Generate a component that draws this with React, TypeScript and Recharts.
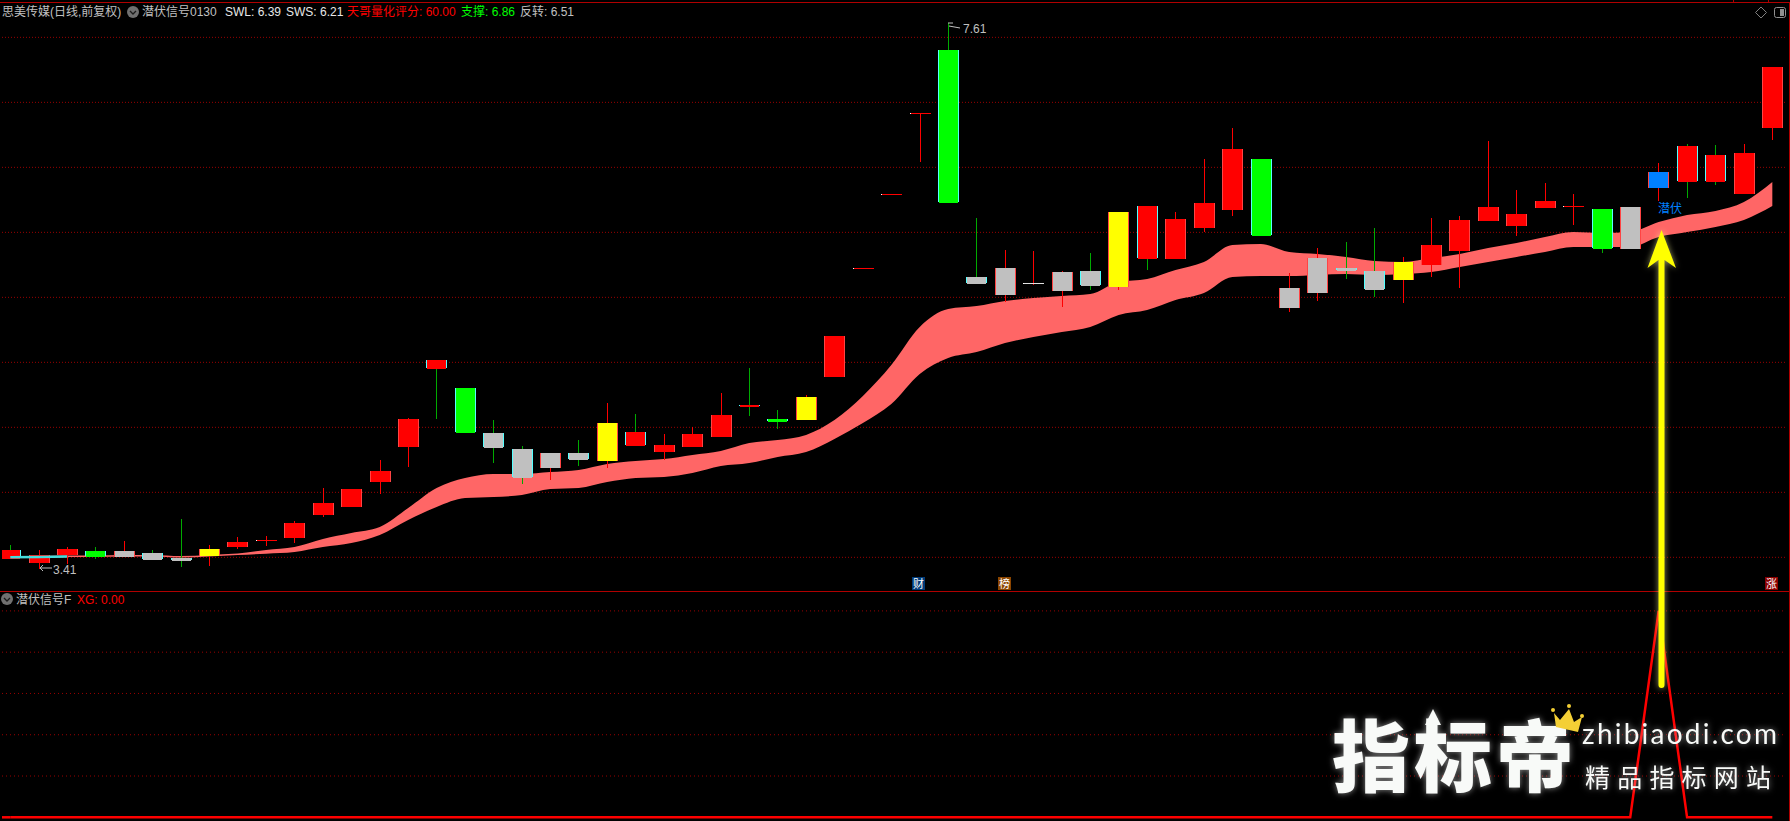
import { Area, Bar, CartesianGrid, ComposedChart, Line, LineChart, ReferenceLine, XAxis, YAxis } from "recharts";

const highs = [
  3.595, 3.556, 3.579, 3.579, 3.625, 3.556, 3.795, 3.595, 3.656, 3.664, 3.779, 4.033, 4.025, 4.249, 4.572, 5.018,
  4.802, 4.556, 4.356, 4.302, 4.402, 4.687, 4.602, 4.449, 4.502, 4.764, 4.956, 4.633, 4.749, 5.202, 5.725, 6.295,
  6.918, 7.61, 6.11, 5.864, 5.856, 5.702, 5.841, 6.156, 6.202, 6.156, 6.564, 6.802, 6.564, 5.687, 5.879, 5.925,
  6.033, 5.81, 6.11, 6.125, 6.702, 6.325, 6.379, 6.295, 6.179, 6.195, 6.533, 6.679, 6.672, 6.679, 7.272
];
const bodyTops = [
  3.556, 3.518, 3.564, 3.549, 3.549, 3.533, 3.495, 3.564, 3.618, 3.633, 3.764, 3.918, 4.025, 4.164, 4.564, 5.018,
  4.802, 4.456, 4.333, 4.302, 4.302, 4.533, 4.464, 4.364, 4.449, 4.595, 4.672, 4.564, 4.733, 5.202, 5.725, 6.295,
  6.918, 7.402, 5.656, 5.725, 5.61, 5.695, 5.702, 6.156, 6.202, 6.102, 6.225, 6.641, 6.564, 5.572, 5.802, 5.725,
  5.702, 5.772, 5.902, 6.095, 6.195, 6.141, 6.241, 6.202, 6.179, 6.195, 6.464, 6.664, 6.595, 6.61, 7.272
];
const bodyBottoms = [
  3.487, 3.456, 3.518, 3.502, 3.502, 3.479, 3.472, 3.51, 3.579, 3.633, 3.649, 3.825, 3.887, 4.079, 4.349, 4.949,
  4.456, 4.341, 4.11, 4.187, 4.249, 4.241, 4.356, 4.31, 4.349, 4.425, 4.656, 4.541, 4.556, 4.887, 5.725, 6.295,
  6.918, 6.225, 5.602, 5.518, 5.61, 5.549, 5.587, 5.579, 5.795, 5.795, 6.033, 6.172, 5.972, 5.418, 5.533, 5.702,
  5.556, 5.633, 5.749, 5.856, 6.087, 6.049, 6.187, 6.202, 5.872, 5.872, 6.341, 6.387, 6.387, 6.295, 6.802
];
const lows = [
  3.487, 3.41, 3.449, 3.487, 3.502, 3.479, 3.425, 3.433, 3.564, 3.587, 3.61, 3.81, 3.887, 3.987, 4.195, 4.564,
  4.456, 4.225, 4.064, 4.095, 4.202, 4.187, 4.356, 4.249, 4.349, 4.425, 4.587, 4.487, 4.556, 4.887, 5.725, 6.295,
  6.541, 6.225, 5.602, 5.464, 5.595, 5.425, 5.556, 5.556, 5.71, 5.795, 6.002, 6.125, 5.972, 5.387, 5.472, 5.641,
  5.502, 5.456, 5.656, 5.572, 6.087, 5.972, 6.187, 6.056, 5.841, 5.872, 6.241, 6.264, 6.364, 6.295, 6.71
];
const bandUpper = [
  3.51, 3.51, 3.514, 3.514, 3.518, 3.518, 3.51, 3.518, 3.529, 3.556, 3.579, 3.641, 3.687, 3.733, 3.879, 4.033,
  4.11, 4.141, 4.141, 4.156, 4.172, 4.218, 4.241, 4.256, 4.287, 4.318, 4.379, 4.402, 4.441, 4.556, 4.741, 4.979,
  5.272, 5.41, 5.433, 5.472, 5.495, 5.51, 5.525, 5.618, 5.641, 5.71, 5.772, 5.902, 5.91, 5.849, 5.833, 5.81,
  5.779, 5.772, 5.802, 5.833, 5.879, 5.918, 5.964, 6.002, 5.995, 6.002, 6.079, 6.133, 6.164, 6.233, 6.387
];
const bandLower = [
  3.495, 3.495, 3.502, 3.502, 3.506, 3.506, 3.498, 3.506, 3.518, 3.528, 3.541, 3.579, 3.61, 3.672, 3.787, 3.887,
  3.956, 3.964, 3.979, 4.025, 4.033, 4.079, 4.11, 4.118, 4.149, 4.202, 4.225, 4.272, 4.31, 4.41, 4.533, 4.679,
  4.91, 5.033, 5.079, 5.149, 5.195, 5.233, 5.272, 5.364, 5.402, 5.479, 5.533, 5.656, 5.664, 5.664, 5.672, 5.679,
  5.672, 5.679, 5.695, 5.733, 5.772, 5.81, 5.849, 5.887, 5.887, 5.887, 5.964, 6.002, 6.041, 6.095, 6.202
];
const startSegment = [3.5, 3.503, 3.506];
// r rise, g drop, s flat signal, y warning, b entry
const bodyKinds = "rrrgsssyrrrrrrrrgssssyrrrrrgyrrrrgsssssyrrrrgssssyrrrrrrgsbrrrr".split("");
// 1 = closed up side, 0 = closed down side
const sides = [
  0, 1, 1, 0, 1, 0, 0, 1, 1, 1, 1, 1, 1, 1, 1, 0, 0, 0, 0, 1, 0, 1, 0, 1, 1, 1, 0, 0, 1, 1, 1, 1, 1, 0, 0, 1, 1, 1, 0,
  1, 0, 1, 1, 1, 0, 1, 1, 0, 0, 1, 1, 1, 1, 1, 1, 1, 0, 1, 1, 0, 0, 1, 1
];
const signalDay = 58;
const priceGrid = [3.5, 4, 4.5, 5, 5.5, 6, 6.5, 7, 7.5];
const signalGrid = [0.2, 0.4, 0.6, 0.8, 1];

const rows = highs.map((high, index) => ({
  index,
  high,
  low: lows[index],
  range: [lows[index], high],
  bodyTop: bodyTops[index],
  bodyBottom: bodyBottoms[index],
  band: [bandLower[index], bandUpper[index]],
  start: startSegment[index],
  kind: bodyKinds[index],
  side: sides[index],
  xg: index === signalDay ? 1 : 0
}));

const bodyColors: Record<string, string> = {
  r: "#ff0000",
  g: "#00ff00",
  s: "#c0c0c0",
  y: "#ffff00",
  b: "#0080ff"
};

const xDomain = [-0.292, 62.446];
const cjk = "'Liberation Sans','Noto Sans CJK SC',sans-serif";

function Candle(props: any) {
  const { x, width, y, height, payload } = props;
  const cx = Math.floor(x + width / 2);
  const spread = payload.high - payload.low;
  const perUnit = spread > 0 ? height / spread : 0;
  const top = Math.round(y + (payload.high - payload.bodyTop) * perUnit);
  const bottom = Math.round(y + (payload.high - payload.bodyBottom) * perUnit);
  const wickTop = Math.round(y);
  const wickHeight = Math.round(height);
  const wick = payload.side ? "#ff0000" : "#00aa00";
  const edge = payload.side ? "#ff4444" : "#55ffff";
  const fill = bodyColors[payload.kind];

  if (bottom - top < 1) {
    // open == close: only a flat line
    return (
      <g shapeRendering="crispEdges">
        {wickHeight > 0 && <rect x={cx} y={wickTop} width={1} height={wickHeight} fill={wick} />}
        <rect x={cx - 10} y={top} width={21} height={1} fill={payload.kind === "s" ? "#e0e0e0" : fill} />
        <rect x={cx - 10} y={top} width={1} height={1} fill="#ffffff" />
      </g>
    );
  }
  const h = bottom - top;
  const edgeHeight = payload.side ? h : Math.max(h - 1, 1);
  return (
    <g shapeRendering="crispEdges">
      {wickHeight > 0 && <rect x={cx} y={wickTop} width={1} height={wickHeight} fill={wick} />}
      <rect x={cx - 9} y={top} width={19} height={h} fill={fill} />
      <rect x={cx - 10} y={top} width={1} height={edgeHeight} fill={edge} />
      <rect x={cx + 10} y={top} width={1} height={edgeHeight} fill={edge} />
    </g>
  );
}

function Badge({ x, label, color }: { x: number; label: string; color: string }) {
  return (
    <g>
      <rect x={x} y={577} width={13} height={13} fill={color} />
      <text x={x + 6.5} y={588} textAnchor="middle" fontSize={11} fill="#ffffff" fontFamily={cjk}>
        {label}
      </text>
    </g>
  );
}

function Chevron({ cx, cy }: { cx: number; cy: number }) {
  return (
    <g>
      <circle cx={cx} cy={cy} r={6} fill="#707070" />
      <path d={`M${cx - 3} ${cy - 1}L${cx} ${cy + 2}L${cx + 3} ${cy - 1}`} stroke="#1a1a1a" strokeWidth={1.3} fill="none" />
    </g>
  );
}

function Overlay() {
  return (
    <svg width={1790} height={821} style={{ position: "absolute", left: 0, top: 0 }}>
      <g fontFamily={cjk} fontSize={12}>
        <text x={2} y={16} fill="#c0c0c0">思美传媒(日线,前复权)</text>
        <Chevron cx={133} cy={12} />
        <text x={142} y={16} fill="#c0c0c0">潜伏信号0130</text>
        <text x={225} y={16} fill="#e8e8e8">SWL: 6.39</text>
        <text x={286} y={16} fill="#e8e8e8">SWS: 6.21</text>
        <text x={347} y={16} fill="#ff0000">天哥量化评分: 60.00</text>
        <text x={461} y={16} fill="#00ff00">支撑: 6.86</text>
        <text x={520} y={16} fill="#c0c0c0">反转: 6.51</text>
        <Chevron cx={7} cy={599} />
        <text x={16} y={604} fill="#c0c0c0">潜伏信号F</text>
        <text x={77} y={604} fill="#ff0000">XG: 0.00</text>
        <text x={53} y={574} fill="#c0c0c0">3.41</text>
        <text x={963} y={33} fill="#c0c0c0">7.61</text>
        <text x={1658} y={213} fill="#0080ff">潜伏</text>
      </g>

      <path d="M52 568H40M43 565L40 568L43 571" stroke="#c0c0c0" fill="none" />
      <path d="M948 23H953M949 26L960 28" stroke="#c0c0c0" fill="none" />

      <Badge x={912} label="财" color="#003a78" />
      <Badge x={998} label="榜" color="#8b4500" />
      <Badge x={1765} label="涨" color="#8b0000" />

      <path d="M1761 7L1766.5 12.5L1761 18L1755.5 12.5Z" stroke="#808080" fill="none" />
      <rect x={1774.5} y={7.5} width={11} height={10} rx={2} stroke="#909090" fill="none" />
      <rect x={1780} y={9} width={4} height={7} fill="#909090" />

      <g style={{ filter: "drop-shadow(0 0 3px rgba(255,255,160,0.6))" }}>
        <path d="M1661.5 230L1676 268L1664.5 260V685a3 3 0 0 1 -6 0V260L1647.5 268Z" fill="#ffff00" />
      </g>

      <g style={{ filter: "drop-shadow(0 0 3px rgba(255,255,255,0.55))" }} fill="#f8faf8">
        <text x={1332} y={786} fontSize={78} fontWeight={900} fontFamily="'Noto Sans CJK SC',sans-serif" textLength={242} lengthAdjust="spacing">
          指标帝
        </text>
        <path d="M1433 709L1441 725H1425Z" />
        <text x={1582} y={744} fontSize={28} fontFamily="Lato,'Open Sans',sans-serif" textLength={195} lengthAdjust="spacing">
          zhibiaodi.com
        </text>
        <text x={1585} y={787} fontSize={25} fontFamily="'Noto Sans CJK SC',sans-serif" textLength={186} lengthAdjust="spacing">
          精品指标网站
        </text>
      </g>
      <g fill="#f4cf35">
        <path d="M1554 713L1560 720L1569 709L1574 722L1582 717L1578 732L1556 727Z" />
        <circle cx={1553} cy={710} r={2} />
        <circle cx={1569} cy={706} r={2} />
        <circle cx={1582} cy={716} r={2} />
      </g>
    </svg>
  );
}

export default function App() {
  return (
    <div style={{ position: "absolute", left: 0, top: 0, width: 1790, height: 821, background: "#000", overflow: "hidden" }}>
      <div style={{ position: "absolute", left: 0, top: 2, width: 1790, height: 1, background: "#b00000" }} />
      <div style={{ position: "absolute", left: 1733, top: 0, width: 1, height: 2, background: "#b00000" }} />
      <div style={{ position: "absolute", left: 1768, top: 0, width: 1, height: 2, background: "#b00000" }} />
      <div style={{ position: "absolute", left: 0, top: 591, width: 1790, height: 1, background: "#b00000" }} />
      <div style={{ position: "absolute", left: 1789, top: 2, width: 1, height: 819, background: "#b00000" }} />

      <div style={{ position: "absolute", left: 0, top: 0 }}>
        <ComposedChart width={1790} height={592} data={rows} margin={{ top: 2, right: 5, bottom: 1, left: 2 }}>
          <CartesianGrid vertical={false} horizontalValues={priceGrid} stroke="#990000" strokeDasharray="1 2" />
          <XAxis dataKey="index" type="number" domain={xDomain} hide allowDataOverflow />
          <YAxis domain={[3.241, 7.772]} hide allowDataOverflow />
          <Area dataKey="band" type="monotone" stroke="none" fill="#ff6666" fillOpacity={1} isAnimationActive={false} dot={false} activeDot={false} />
          <Line dataKey="start" type="linear" stroke="#44dddd" strokeWidth={2.5} dot={false} activeDot={false} isAnimationActive={false} />
          <Bar dataKey="range" barSize={21} shape={<Candle />} isAnimationActive={false} />
        </ComposedChart>
      </div>

      <div style={{ position: "absolute", left: 0, top: 591 }}>
        <LineChart width={1790} height={230} data={rows} margin={{ top: 0, right: 5, bottom: 0, left: 2 }}>
          <CartesianGrid vertical={false} horizontalValues={signalGrid} stroke="#990000" strokeDasharray="1 3" />
          <XAxis dataKey="index" type="number" domain={xDomain} hide allowDataOverflow />
          <YAxis domain={[-0.0179, 1.0964]} hide allowDataOverflow />
          <ReferenceLine segment={[{ x: xDomain[0], y: 0 }, { x: 0, y: 0 }]} stroke="#ff0000" strokeWidth={2.5} />
          <Line dataKey="xg" type="linear" stroke="#ff0000" strokeWidth={2.5} dot={false} activeDot={false} isAnimationActive={false} />
        </LineChart>
      </div>

      <Overlay />
    </div>
  );
}
